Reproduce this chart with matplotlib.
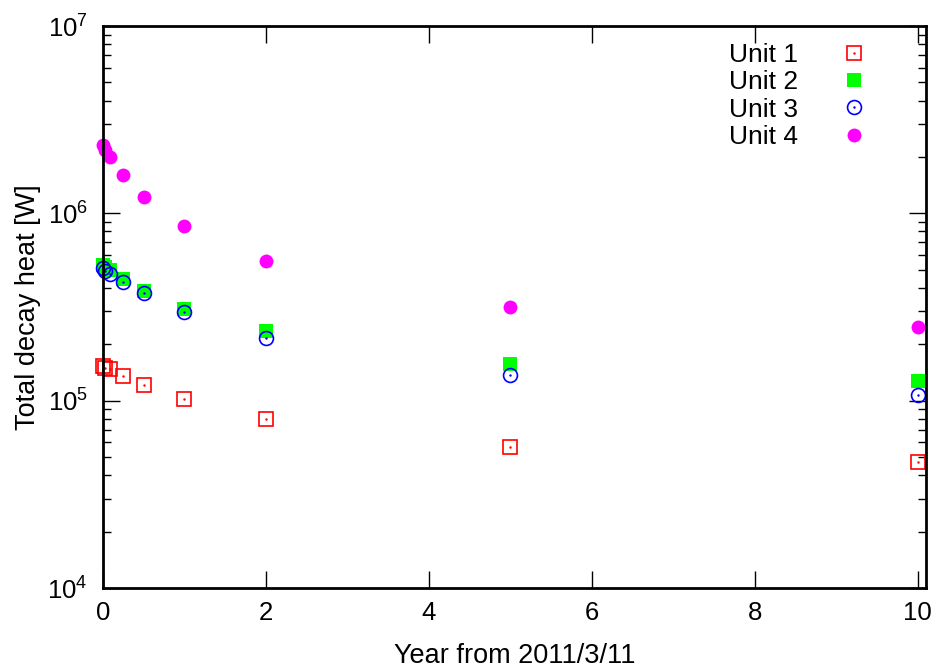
import matplotlib.pyplot as plt
from matplotlib.ticker import LogLocator, NullFormatter

plt.rcParams['font.family'] = ['Liberation Sans', 'DejaVu Sans']
plt.rcParams['mathtext.fontset'] = 'custom'
plt.rcParams['mathtext.rm'] = 'Liberation Sans'

# years after 2011/3/11
years = [0, 7/365, 30/365, 91/365, 182/365, 1, 2, 5, 10]

unit1 = [1.53e5, 1.50e5, 1.47e5, 1.35e5, 1.21e5, 1.02e5, 7.96e4, 5.65e4, 4.70e4]
unit2 = [5.28e5, 5.15e5, 4.97e5, 4.45e5, 3.84e5, 3.08e5, 2.35e5, 1.57e5, 1.27e5]
unit3 = [5.09e5, 4.95e5, 4.73e5, 4.28e5, 3.74e5, 2.97e5, 2.15e5, 1.37e5, 1.07e5]
unit4 = [2.31e6, 2.17e6, 2.01e6, 1.60e6, 1.22e6, 8.60e5, 5.60e5, 3.15e5, 2.46e5]

labels = ['Unit 1', 'Unit 2', 'Unit 3', 'Unit 4']

fig = plt.figure(figsize=(9.4, 6.7), dpi=100)
ax = fig.add_axes([103/940, 1 - 588/670, 823/940, 562/670])

tick_fs = 18.5
label_fs = 19.5

# gnuplot-ish point types (open ones get a centre dot)
h1, = ax.plot(years, unit1, 's', mfc='none', mec='red', ms=9.5, mew=1.2, clip_on=False)
d1, = ax.plot(years, unit1, '.', color='red', ms=1.5, clip_on=False)
h2, = ax.plot(years, unit2, 's', color='lime', ms=9.5, mew=0, clip_on=False)
h3, = ax.plot(years, unit3, 'o', mfc='none', mec='blue', ms=10, mew=1.2, clip_on=False)
d3, = ax.plot(years, unit3, '.', color='blue', ms=1.5, clip_on=False)
h4, = ax.plot(years, unit4, 'o', color='magenta', ms=10, mew=0, clip_on=False)

ax.set_yscale('log')
ax.set_xlim(0, 10.1)
ax.set_ylim(1e4, 1e7)
ax.set_xticks([0, 2, 4, 6, 8, 10])
ax.yaxis.set_major_locator(LogLocator(base=10, numticks=10))
ax.yaxis.set_minor_locator(LogLocator(base=10, subs=range(2, 10), numticks=10))
ax.yaxis.set_minor_formatter(NullFormatter())

ax.tick_params(which='both', direction='in', top=True, right=True, labelsize=tick_fs, width=1)
ax.tick_params(axis='x', pad=9)
ax.tick_params(axis='y', pad=11)
ax.tick_params(which='major', length=12)
ax.tick_params(which='minor', length=6)
for s in ax.spines.values():
    s.set_linewidth(2)

ax.set_xlabel('Year from 2011/3/11', fontsize=label_fs)
ax.set_ylabel('Total decay heat [W]', fontsize=label_fs)
ax.xaxis.set_label_coords(0.5, -0.097)
ax.yaxis.set_label_coords(-0.075, 0.5)

ax.legend([(h1, d1), h2, (h3, d3), h4], labels, loc='upper right',
          bbox_to_anchor=(0.941, 0.989), frameon=False, fontsize=19,
          markerfirst=False, handletextpad=1.6, labelspacing=0.13,
          borderaxespad=0, handlelength=1.0)

fig.savefig('out.png', dpi=100)
